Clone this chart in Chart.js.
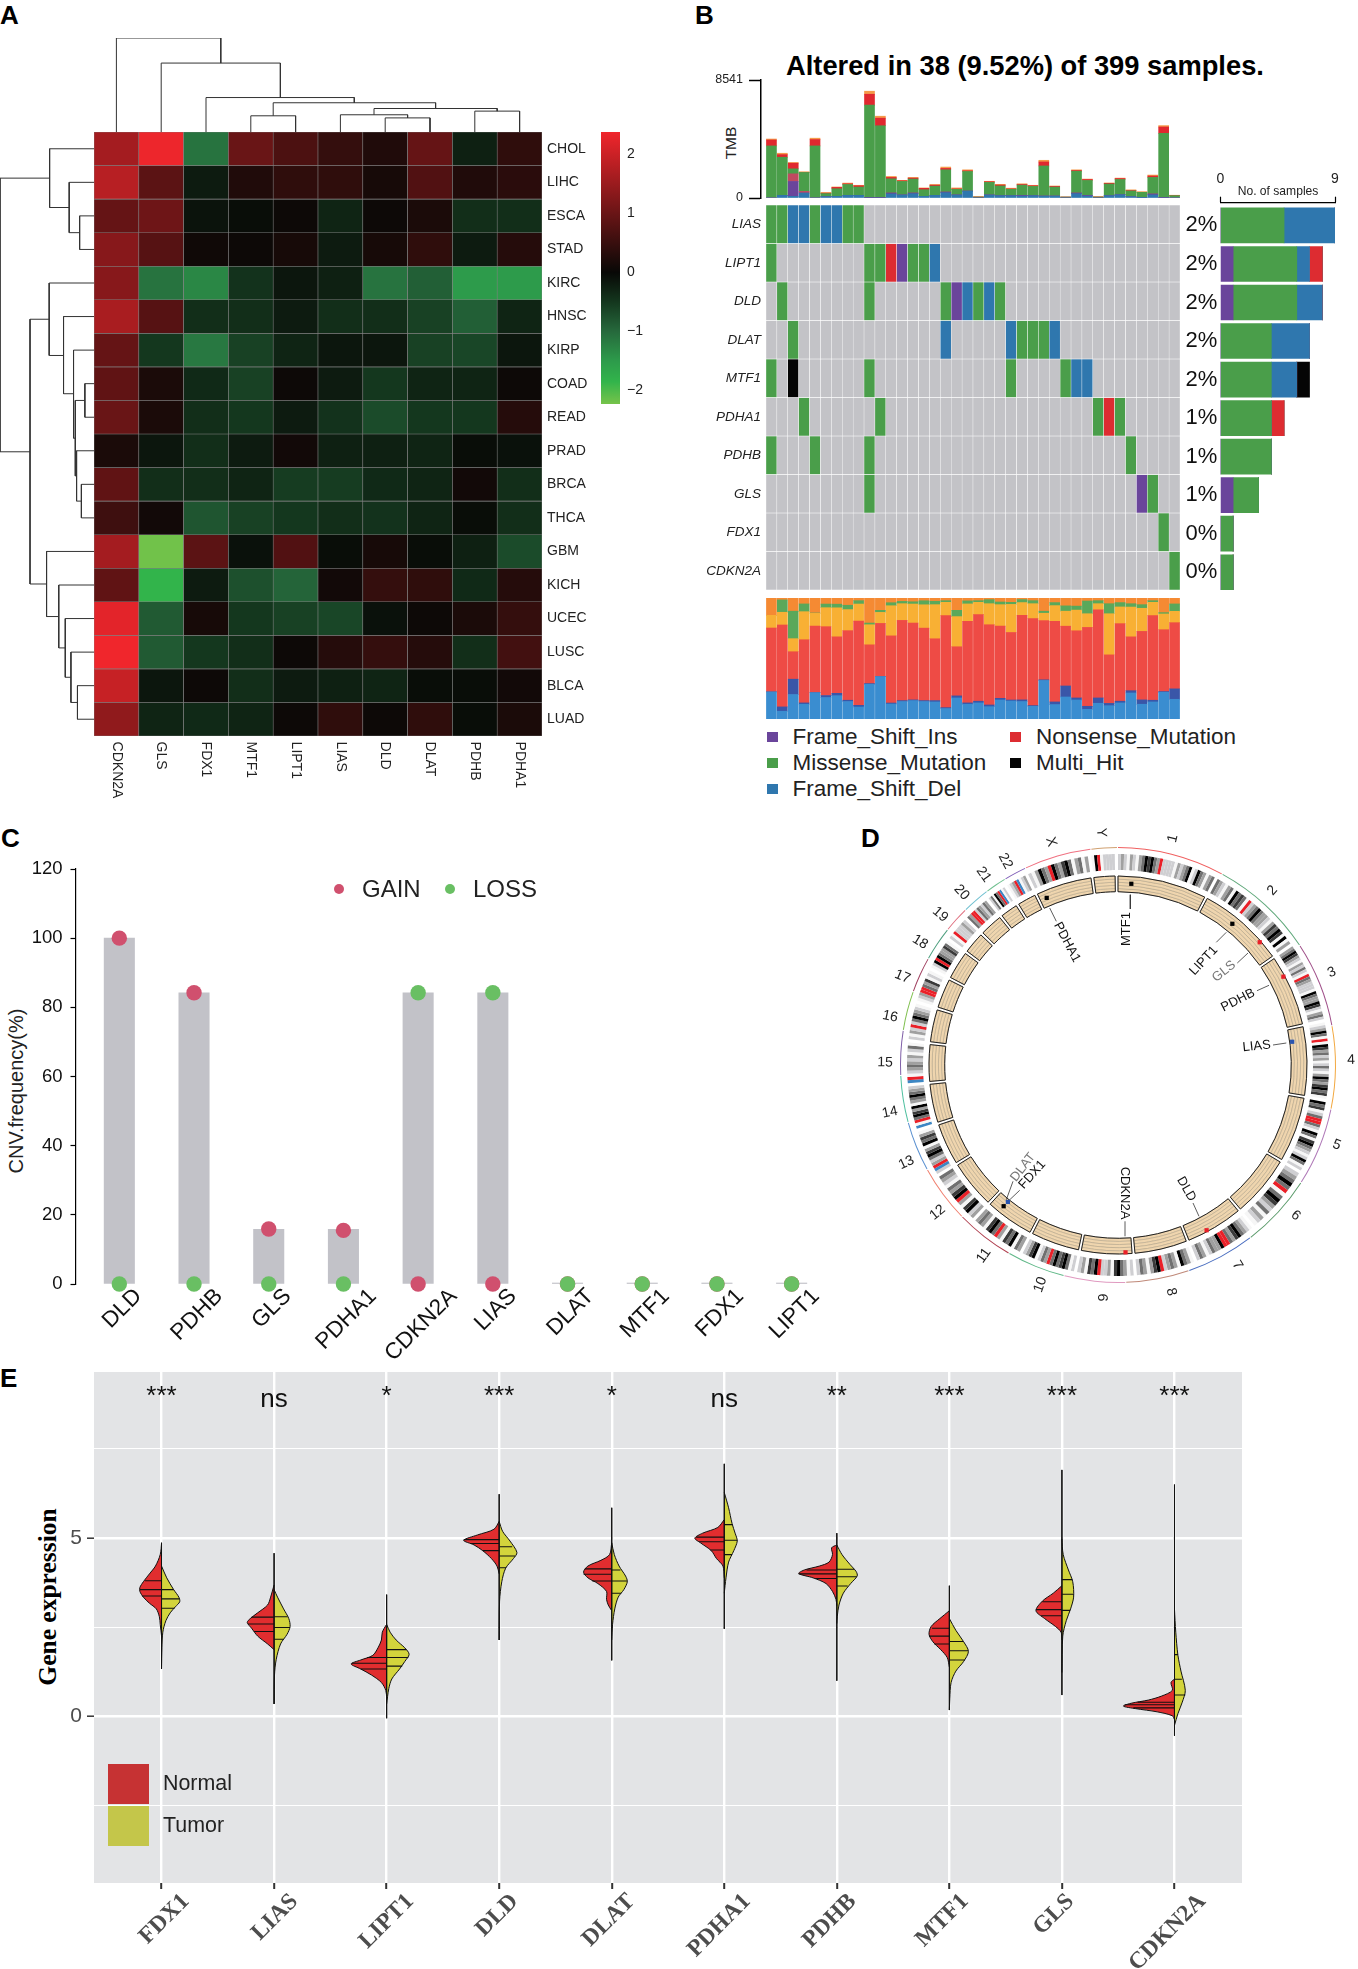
<!DOCTYPE html>
<html><head><meta charset="utf-8">
<style>html,body{margin:0;padding:0;background:#fff;width:1358px;height:1969px;overflow:hidden;position:relative}
.t{position:absolute;white-space:nowrap;font-family:"Liberation Sans",Arial,sans-serif;line-height:1;color:#111}
.s{position:absolute}</style>
<script src="https://cdn.jsdelivr.net/npm/chart.js@4/dist/chart.umd.js"></script>
</head><body>
<script>
/* ---------- A: heatmap ---------- */
const heatGenes=['CDKN2A','GLS','FDX1','MTF1','LIPT1','LIAS','DLD','DLAT','PDHB','PDHA1'];
const heatRows=['CHOL','LIHC','ESCA','STAD','KIRC','HNSC','KIRP','COAD','READ','PRAD','BRCA','THCA','GBM','KICH','UCEC','LUSC','BLCA','LUAD'];
const heatValues=[
[1.6,2.35,-1.1,1.0,0.7,0.45,0.25,0.95,-0.25,0.4],
[1.8,0.85,-0.2,0.25,0.4,0.4,0.15,0.75,0.25,0.35],
[0.95,1.05,-0.12,-0.05,0.05,-0.3,0.05,0.2,-0.4,-0.4],
[1.3,0.8,0.08,0.05,0.15,-0.2,0.15,0.4,-0.2,0.3],
[1.3,-1.1,-1.3,-0.45,-0.15,-0.25,-1.1,-0.9,-1.5,-1.5],
[1.65,0.8,-0.4,-0.4,-0.2,-0.4,-0.4,-0.6,-0.9,-0.3],
[0.95,-0.5,-1.15,-0.6,-0.3,-0.15,-0.15,-0.6,-0.65,-0.15],
[0.9,0.2,-0.35,-0.6,0.05,-0.2,-0.5,-0.3,-0.3,0.05],
[1.0,0.2,-0.4,-0.5,-0.2,-0.45,-0.7,-0.5,-0.5,0.3],
[0.2,-0.15,-0.4,-0.2,0.1,-0.25,-0.25,-0.3,-0.05,-0.1],
[0.9,-0.4,-0.4,-0.3,-0.55,-0.55,-0.35,-0.3,0.1,-0.4],
[0.55,0.1,-0.8,-0.6,-0.5,-0.4,-0.45,-0.3,-0.05,-0.4],
[1.6,-2.2,0.85,-0.1,0.75,-0.05,0.15,-0.05,-0.25,-0.7],
[0.9,-1.85,-0.2,-0.75,-0.95,0.1,0.45,0.4,-0.35,0.3],
[2.25,-0.85,0.15,-0.5,-0.6,-0.65,-0.1,0.05,0.2,0.45],
[2.38,-0.85,-0.5,-0.4,0.05,0.3,0.45,0.3,-0.4,0.6],
[1.95,-0.15,0.05,-0.4,-0.2,-0.25,-0.3,-0.05,-0.05,0.1],
[1.4,-0.3,-0.35,-0.3,0.05,0.4,0.05,0.4,-0.05,0.2]];
const heatStops=[[-2.23,[118,195,74]],[-1.85,[50,180,75]],[-1.5,[45,155,75]],[-1,[38,105,60]],[-0.5,[20,55,30]],[0,[8,8,6]],[2.38,[240,38,44]]];
const heatTicks=[-2,-1,0,1,2];
/* dendrograms: [posA,heightA,posB,heightB,mergeHeight] */
const topDendro=[[3.5,0,4.5,0,31],[6.5,0,7.5,0,27],[5.5,0,7,27,33],[8.5,0,9.5,0,40],[6.25,33,9,40,45],[4,31,7.625,45,56],[2.5,0,5.81,56,66],[1.5,0,4.16,66,132],[0.5,0,2.83,132,180]];
const leftDendro=[[16.5,0,17.5,0,38],[15.5,0,17,38,53],[14.5,0,16.25,53,66],[13.5,0,15.375,66,81],[12.5,0,14.44,81,109],[10.5,0,11.5,0,29],[9.5,0,11,29,40],[7.5,0,8.5,0,21],[8,21,10.25,40,43],[6.5,0,9.125,43,47],[5.5,0,7.8,47,70],[4.5,0,6.66,70,103],[5.58,103,13.47,109,147],[2.5,0,3.5,0,33],[1.5,0,3,33,57],[0.5,0,2.25,57,102],[1.375,102,9.53,147,216]];
/* ---------- B: oncoplot ---------- */
const oncoGenes=['LIAS','LIPT1','DLD','DLAT','MTF1','PDHA1','PDHB','GLS','FDX1','CDKN2A'];
const oncoPct=['2%','2%','2%','2%','2%','1%','1%','1%','0%','0%'];
const oncoHits=[
{0:'G',1:'G',2:'B',3:'B',4:'G',5:'B',6:'B',7:'G',8:'G'},
{0:'G',9:'G',10:'G',11:'R',12:'P',13:'G',14:'G',15:'B'},
{1:'G',9:'G',16:'G',17:'P',18:'B',19:'G',20:'B',21:'G'},
{2:'G',16:'B',22:'B',23:'G',24:'G',25:'G',26:'B'},
{0:'G',2:'K',9:'G',22:'G',27:'G',28:'B',29:'B'},
{3:'G',10:'G',30:'G',31:'R',32:'G'},
{0:'G',4:'G',9:'G',33:'G'},
{9:'G',34:'P',35:'G'},
{36:'G'},
{37:'G'}];
const tmbBlue=[0,190,120,360,0,100,120,190,190,0,0,290,220,310,120,190,380,220,500,0,220,170,170,140,170,140,140,0,310,140,0,170,240,100,50,220,0,0];
const tmbPurple=[0,0,1080,0,0,0,0,0,0,50,50,70,0,50,0,0,50,0,0,0,0,0,0,50,0,0,0,0,50,50,0,0,0,0,0,70,50,0];
const tmbCrimson=[0,0,550,120,0,0,0,0,0,0,0,0,0,0,0,0,0,0,0,0,0,0,0,0,0,0,0,0,0,0,0,0,0,0,0,0,0,0];
const tmbGreen=[3770,2760,360,1370,3770,220,550,790,600,6670,5180,1030,980,1010,480,670,1610,410,1420,70,910,700,460,740,670,2180,650,70,1580,1080,70,840,1100,410,360,1200,4630,170];
const tmbRed=[430,190,410,0,460,30,100,50,100,790,550,100,50,70,100,70,100,30,50,0,50,70,30,50,50,290,50,0,50,70,0,50,70,30,0,100,460,0];
const tmbOrange=[70,100,50,50,100,50,30,50,30,220,140,70,30,50,30,50,100,70,70,30,30,50,50,50,30,120,30,0,50,30,30,30,30,50,50,70,100,30];
const tvBlue=[22.4,6.4,20.2,12.2,21.8,17.7,19.3,14.4,9.9,28.7,35.1,12.4,14.4,15.2,14.4,14.1,8.6,17.4,12.2,13.3,10.2,15.7,14.9,14.4,10.5,31.8,11.9,18.2,15.7,8,13,11,13.3,21.5,12.2,14.1,22.1,16.3];
const tvNavy=[0,3.6,12.7,1.1,0,1.7,1.9,1.1,1.4,0.6,0,0.8,0.8,0.6,0.8,1.1,0.8,1.7,1.1,1.4,1.4,1.4,0.8,1.4,0.6,0.6,2.2,9.1,1.7,2.5,4.4,1.9,1.4,1.9,3.6,1.4,0.6,8.6];
const tvRed=[52.8,67.7,22.7,52.2,55,56.9,46.7,57.5,69.6,32,43.9,55.5,66.3,63.5,59.9,51.1,76,40.6,67.4,71.5,66.3,59.7,55.8,69.9,71.8,48.9,66.6,49.4,55.5,65.2,72.9,40.1,64.1,44.5,56.6,69.9,51.1,54.7];
const tvYellow=[10.5,10.5,10.8,23.2,10.5,15.7,24,17.4,14.1,16.6,9.1,24.9,13.8,15.7,19.3,28.2,11,24.9,14.4,10.2,17.4,17.7,23.2,10.5,12.4,6.1,13,12.4,17.1,11.3,5,34,13.8,24.6,19.1,11,13,9.4];
const tvGreen=[0,10.2,22.7,6.4,0.3,3,3,3.6,2.8,1.4,1.7,2.5,1.9,1.9,3.3,2.8,1.4,5.2,2.5,1.4,3.3,2.2,1.7,2.5,2.5,1.7,2.5,4.4,3.3,10.5,2.5,8.3,3.6,2.8,3,1.4,1.1,6.1];
const tvOrange=[14.4,1.7,11,5,12.4,5,5,6.1,2.2,20.7,10.2,3.9,2.8,3,2.2,2.8,2.2,10.2,2.5,2.2,1.4,3.3,3.6,1.4,2.2,11,3.9,6.4,6.6,2.5,2.2,4.7,3.9,4.7,5.5,2.2,12.2,5];
const sideFrameIns=[0,1,1,0,0,0,0,1,0,0];
const sideMissense=[5,5,5,4,4,4,4,2,1,1];
const sideFrameDel=[4,1,2,3,2,0,0,0,0,0];
const sideNonsense=[0,1,0,0,0,1,0,0,0,0];
const sideMultiHit=[0,0,0,0,1,0,0,0,0,0];
const mutColor={P:'#6a459b',G:'#4a9e4a',B:'#2f77ae',R:'#dd2c31',K:'#050505'};
/* ---------- C ---------- */
const cnvGenes=['DLD','PDHB','GLS','PDHA1','CDKN2A','LIAS','DLAT','MTF1','FDX1','LIPT1'];
const cnvBar=[100,84.2,15.8,15.8,84.2,84.2,0,0,0,0];
const cnvGain=[100,84.2,15.9,15.5,0,0,0,0,0,0];
const cnvLoss=[0,0,0,0,84.2,84.2,0,0,0,0];
const cnvTicks=[0,20,40,60,80,100,120];
/* ---------- D: circos ---------- */
const chromNames=['1','2','3','4','5','6','7','8','9','10','11','12','13','14','15','16','17','18','19','20','21','22','X','Y'];
const chromSizes=[249,243,198,191,181,171,159,146,141,135,135,133,115,107,102,90,81,78,59,63,48,51,155,59];
const chromColors=['#f06060','#5fa87a','#a0508a','#f2a840','#b07ab8','#5a9a6a','#4a6ec0','#c08a7a','#e09ac0','#60b888','#b04050','#f08070','#5a90d0','#50c0a0','#8060a8','#80c050','#a04060','#50a080','#e07080','#70c0d0','#70c090','#8060b8','#f07080','#d0a070'];
const chromGap=8;
const chromBands=['lmlwmlwmgkdkgmrllllwmlmgkwlkgmwmg','gmlwmgwkgdgwrlmgkgmmlwmdgkdwkwm','mgkdmlwmlglwrgmlllwkgmmkdlwmgl','wlmkgwrwkdmglmwlglwmkgmdkgdw','kgdwlgrrglwkgwdkgmlwlkgwl','lmgkgrwgkdmlgwmlw','wlmgkdmgrrkmmglwmgl','wmgkwmgmlrkdmwmgl','lwmgkdwmllrkgdwml','lwgkdgkgrmglwkdml','mgwkgdwmrgkdwmgm','mlkdwmrkdmgwlmg','lbrmlgkdmwkgdmw','bwrgkdmkwmgkgml','brwlmgmlmwlgw','lwmlrlgkgmlw','wlmrrgmdwlw','wlkrkgmmdgw','lwrlllml','gmrrlgmlgm','lgwkgrbwl','wlmrbwlm','lwmkgmrkgmdkgwmgwm','wkrwllll'];
const bandShades={w:'#f6f6f6',l:'#cfcfd2',m:'#a0a0a0',g:'#707070',d:'#3a3a3a',k:'#000000',r:'#ea2028',b:'#3d87c4'};
const markerGenes=['MTF1','LIPT1','GLS','PDHB','LIAS','DLD','CDKN2A','DLAT','FDX1','PDHA1'];
const markerAngle=[4.2,39,49.1,61.9,82.4,151.8,177.7,218.8,219,336.9];
const markerRadius=[181.7,181.7,187.5,187.5,175.7,187.5,187.5,175.7,181.7,181.7];
const markerColor=['#000','#000','#ea2028','#ea2028','#2a55b0','#ea2028','#ea2028','#2a55b0','#000','#000'];
const leaderLines=[[12.3,170.3,12.3,156],[108.3,132.7,98.3,122.7],[130,112,119.3,102],[151,79.7,139,74.3],[168.3,22,155,20],[81,-151.3,75,-138],[7,-171.3,7,-156.3],[-111.7,-134.7,-105,-116.3],[-111.7,-138,-98.3,-125.3],[-68.3,157,-61.7,143.7]];
const labelX=[8.3,85.7,106,120,138.7,68.3,7,-95,-85.7,-51];
const labelY=[136,104.3,93.7,64.7,18.7,-124,-128,-102.3,-109.7,122.7];
const labelRot=[-90,-47,-38,-27,-6,60,90,-52,-48,62];
const labelInk=['#111','#111','#777','#111','#111','#111','#111','#777','#111','#111'];
/* ---------- E: violins ---------- */
const violinGenes=['FDX1','LIAS','LIPT1','DLD','DLAT','PDHA1','PDHB','MTF1','GLS','CDKN2A'];
const sigLabels=['***','ns','*','***','*','ns','**','***','***','***'];
const whiskerTop=[4.86,4.57,3.41,6.22,5.84,7.07,5.13,3.66,6.90,6.49];
const whiskerBottom=[1.33,0.35,-0.05,2.14,1.57,2.45,1.0,0.18,0.60,-0.54];
const normalProfiles=[
[[4.86,0],[4.53,3],[4.21,14],[3.99,28],[3.77,42],[3.61,50],[3.5,50],[3.34,42],[3.17,28],[3.01,12],[2.79,5],[2.58,3],[2.25,0]],
[[3.68,0],[3.34,8],[3.12,15],[2.9,38],[2.74,55],[2.63,62],[2.47,52],[2.25,38],[2.03,15],[1.87,0]],
[[2.58,0],[2.36,10],[2.14,12],[1.92,20],[1.71,32],[1.58,60],[1.47,82],[1.33,60],[1.16,35],[0.95,12],[0.73,2],[0.51,0]],
[[5.46,0],[5.24,12],[5.08,50],[4.93,82],[4.8,58],[4.64,38],[4.42,18],[4.21,5],[3.99,0]],
[[4.86,0],[4.53,5],[4.37,25],[4.21,55],[4.04,65],[3.88,55],[3.72,32],[3.5,12],[3.28,12],[3.12,8],[2.96,0]],
[[5.51,0],[5.29,15],[5.13,50],[4.99,68],[4.86,55],[4.64,30],[4.42,18],[4.21,3],[3.88,0]],
[[4.8,0],[4.72,12],[4.53,10],[4.32,18],[4.21,40],[4.1,75],[4.0,88],[3.88,55],[3.72,25],[3.5,10],[3.28,2],[3.1,0]],
[[2.96,0],[2.74,22],[2.52,42],[2.3,47],[2.09,38],[1.87,20],[1.65,5],[1.38,0]],
[[3.66,0],[3.45,20],[3.23,45],[2.96,60],[2.74,40],[2.52,15],[2.36,2],[2.14,0]],
[[1.05,0],[0.95,8],[0.73,5],[0.57,30],[0.46,60],[0.37,100],[0.29,118],[0.22,90],[0.13,40],[0.02,5],[-0.09,0]]];
const tumorProfiles=[
[[4.21,0],[3.88,12],[3.55,28],[3.34,40],[3.21,42],[3.07,32],[2.9,20],[2.68,10],[2.36,3],[1.92,1],[1.33,0]],
[[3.55,0],[3.34,8],[3.01,22],[2.74,34],[2.52,37],[2.3,30],[2.03,15],[1.6,5],[1.16,1],[0.35,0]],
[[2.58,0],[2.36,8],[2.14,22],[1.92,42],[1.74,52],[1.54,42],[1.33,30],[1.05,12],[0.78,5],[0.35,0]],
[[5.46,0],[5.18,8],[4.91,25],[4.59,41],[4.42,33],[4.15,15],[3.77,6],[3.23,1],[2.14,0]],
[[4.86,0],[4.53,6],[4.21,17],[3.93,32],[3.77,36],[3.55,28],[3.34,15],[3.01,7],[2.58,2],[2.14,0]],
[[6.27,0],[5.84,10],[5.4,18],[5.13,25],[4.91,30],[4.64,22],[4.32,10],[3.88,4],[3.45,0]],
[[4.8,0],[4.53,12],[4.26,30],[4.05,45],[3.93,47],[3.72,32],[3.45,15],[3.12,5],[2.79,1],[2.6,0]],
[[2.74,0],[2.41,15],[2.09,33],[1.82,44],[1.54,33],[1.27,15],[0.95,4],[0.51,1],[0.18,0]],
[[4.97,0],[4.53,3],[4.1,15],[3.77,25],[3.34,27],[3.01,20],[2.68,10],[2.25,2],[1.23,0]],
[[3.01,0],[2.36,3],[1.71,8],[1.27,15],[0.73,25],[0.4,18],[0.08,8],[-0.25,0]]];
const normalQuant=[[[3.8,38],[3.55,50],[3.37,45]],[[2.78,52],[2.59,60],[2.38,46]],[[1.65,45],[1.49,80],[1.33,60]],[[4.95,82],[4.84,65],[4.64,38]],[[4.13,62],[3.98,65],[3.79,45]],[[5.02,65],[4.89,58],[4.66,32]],[[4.1,70],[3.99,88],[3.86,50]],[[2.47,40],[2.25,47],[2.03,35]],[[3.21,45],[2.99,60],[2.82,48]],[[0.4,85],[0.33,115],[0.24,95]]];
const tumorQuant=[[[3.55,28],[3.29,42],[3.03,30]],[[2.79,31],[2.49,37],[2.16,22]],[[1.87,46],[1.65,50],[1.41,36]],[[4.75,30],[4.49,37],[4.16,16]],[[4.1,20],[3.79,36],[3.45,22]],[[5.37,19],[4.93,30],[4.53,18]],[[4.12,40],[3.91,46],[3.65,25]],[[2.1,32],[1.84,43],[1.58,36]],[[3.83,24],[3.42,27],[2.97,19]],[[1.73,8],[1.04,17],[0.6,25]]];
const exprTicks=[-2.5,0,2.5,5,7.5];
const sigLevel=8.67;

/* ---------- helpers ---------- */
const FONT='"Liberation Sans",Arial,sans-serif', SERIF='"Liberation Serif",serif';
Chart.defaults.font.family=FONT; Chart.defaults.color='#111';
function mk(L,T,W,H,cfg){
  const c=document.createElement('canvas');c.width=W;c.height=H;
  c.style.cssText=`position:absolute;left:${L}px;top:${T}px;width:${W}px;height:${H}px`;
  document.body.appendChild(c);
  const o=cfg.options||{};
  o.responsive=false;o.animation=false;o.devicePixelRatio=1;
  o.layout=Object.assign({autoPadding:false,padding:0},o.layout);
  o.plugins=Object.assign({legend:{display:false},tooltip:{enabled:false}},o.plugins);
  cfg.options=o;return new Chart(c,cfg);
}
function txt(x,y,s,css,rot){
  const d=document.createElement('div');d.className='t';d.textContent=s;
  d.style.cssText=`left:${x}px;top:${y}px;transform:translateY(-50%);`+(css||'');
  if(rot!==undefined)d.style.transform=`translate(-50%,-50%) rotate(${rot}deg)`;
  document.body.appendChild(d);
}
function sq(x,y,w,h,col,round){const d=document.createElement('div');d.className='s';d.style.cssText=`left:${x}px;top:${y}px;width:${w}px;height:${h}px;background:${col};`+(round?'border-radius:50%;':'');document.body.appendChild(d);}
const noPad=s=>{s.paddingTop=s.paddingBottom=s.paddingLeft=s.paddingRight=0;};
const fitW=n=>s=>{s.width=n;noPad(s)};
const fitH=n=>s=>{s.height=n;noPad(s)};
const off={display:false};
function rotLabels(n,pad,mode,dx){return s=>{
  s.height=n;noPad(s);
  if(s._rl)return;s._rl=true;
  const orig=s._computeLabelItems;
  s._computeLabelItems=function(ca){
    const items=orig.call(this,ca),c=this.ctx;
    items.forEach((it,i)=>{
      c.font=it.font.string;
      const w=c.measureText(it.label).width,th=it.options.rotation,px=this.getPixelForTick(i);
      const shift=Array.isArray(dx)?dx[i]:(dx||0);
      it.textOffset=0;it.options.textBaseline='middle';
      if(mode==='start'){it.options.textAlign='left';it.options.translation=[px,this.top+pad];}
      else{it.options.textAlign='center';it.options.translation=[px+shift,this.top+pad+w/2*Math.abs(Math.sin(th))+it.font.size*0.36*Math.abs(Math.cos(th))];}
    });
    return items;
  };
}}
function dendroPts(list,swap){const p=[];list.forEach(([a,ha,b,hb,h])=>{
  [[a,ha],[a,h],[b,h],[b,hb]].forEach(([u,v])=>p.push(swap?{x:v,y:u}:{x:u,y:v}));
  p.push({x:NaN,y:NaN});});return p;}
function heatColor(v){
  for(let i=1;i<heatStops.length;i++){const [a,ca]=heatStops[i-1],[b,cb]=heatStops[i];
    if(v<=b){const t=Math.max(0,(v-a)/(b-a));return `rgb(${ca.map((q,k)=>Math.round(q+(cb[k]-q)*t)).join(',')})`;}}
  return 'rgb(240,38,44)';
}
const lineDs=(data,color,w)=>({data,showLine:true,pointRadius:0,borderColor:color,borderWidth:w,clip:false,spanGaps:false});

/* ---------- panel letters ---------- */
const LET='font-weight:bold;font-size:26px;color:#000;';
txt(0,15,'A',LET);txt(695,14.5,'B',LET);txt(1,837.5,'C',LET);txt(861,837.5,'D',LET);txt(0,1378,'E',LET);

/* ---------- A ---------- */
mk(94,38,448,94,{type:'scatter',data:{datasets:[lineDs(dendroPts(topDendro),'#333',1)]},options:{scales:{x:{type:'linear',min:0,max:10,display:false},y:{min:0,max:180,display:false}}}});
mk(0,132,94,604,{type:'scatter',data:{datasets:[lineDs(dendroPts(leftDendro,true),'#333',1)]},options:{scales:{x:{type:'linear',min:0,max:216,reverse:true,display:false},y:{min:0,max:18,reverse:true,display:false}}}});
mk(94,132,518,674,{type:'bar',data:{labels:heatGenes,datasets:heatRows.map((r,i)=>({label:r,yAxisID:'yv',grouped:false,barPercentage:1,categoryPercentage:1,borderSkipped:false,borderWidth:0.6,borderColor:'#808080',
  data:heatGenes.map(()=>[i,i+1]),backgroundColor:heatValues[i].map(heatColor)}))},
  options:{scales:{
    x:{grid:off,border:off,afterFit:rotLabels(70,5.6,'start'),ticks:{autoSkip:false,minRotation:-90,maxRotation:-90,font:{size:14},color:'#222'}},
    yv:{type:'linear',min:0,max:18,reverse:true,display:false},
    yr:{type:'category',labels:heatRows,position:'right',offset:true,grid:{display:false,drawTicks:false},border:off,afterFit:fitW(70),ticks:{autoSkip:false,padding:5,font:{size:14},color:'#222'}}
  }}});
mk(601,132,70,272,{type:'bar',data:{labels:['scale'],datasets:[{data:[[-2.23,2.38]],barPercentage:1,categoryPercentage:1,borderSkipped:false,
  backgroundColor:ctx=>{const a=ctx.chart.chartArea;if(!a)return '#000';const g=ctx.chart.ctx.createLinearGradient(0,a.bottom,0,a.top);
    heatStops.forEach(([v,c])=>g.addColorStop((v+2.23)/4.61,`rgb(${c.join(',')})`));g.addColorStop(1,'rgb(240,38,44)');return g;}}]},
  options:{scales:{x:{display:false},y:{position:'right',min:-2.23,max:2.38,border:off,grid:{display:false,drawTicks:false},afterFit:fitW(51),
    afterBuildTicks:s=>{s.ticks=heatTicks.map(value=>({value}))},ticks:{padding:7,font:{size:14},color:'#222',callback:v=>String(v).replace('-','\u2212')}}}}});

/* ---------- B ---------- */
txt(786,65.5,'Altered in 38 (9.52%) of 399 samples.','font-weight:bold;font-size:27.3px;color:#000;');
txt(731,143,'TMB','font-size:15.5px;color:#222;',-90);
const stackDs=(data,color)=>({data:data.map((y,x)=>({x,y})),backgroundColor:color,barThickness:10});
mk(705,70,475,140,{type:'bar',data:{datasets:[stackDs(tmbBlue,'#2f77ae'),stackDs(tmbPurple,'#6a459b'),stackDs(tmbCrimson,'#c04a60'),stackDs(tmbGreen,'#4a9e4a'),stackDs(tmbRed,'#e0282f'),stackDs(tmbOrange,'#f59a4a')]},
  options:{layout:{padding:{top:10,bottom:12}},scales:{
    x:{type:'linear',offset:false,min:-0.959,max:37.5,stacked:true,display:false},
    y:{stacked:true,min:0,max:8541,afterFit:fitW(56),afterBuildTicks:s=>{s.ticks=[0,8541].map(value=>({value}))},
       border:{color:'#000',width:1.5},grid:{drawOnChartArea:false,tickLength:12,tickColor:'#000',tickWidth:1.5},ticks:{padding:6,font:{size:12.5},color:'#222',callback:v=>String(v)}}}}});
const nCols=tmbGreen.length;
mk(696,205,484,385,{type:'bar',data:{datasets:oncoGenes.map((g,r)=>({yAxisID:'yv',grouped:false,barThickness:10.9,borderSkipped:false,borderWidth:0.5,borderColor:'#fff',
   data:Array.from({length:nCols},(_,x)=>({x,y:[r,r+1]})),
   backgroundColor:Array.from({length:nCols},(_,x)=>oncoHits[r][x]?mutColor[oncoHits[r][x]]:'#c3c3c7')}))},
  options:{scales:{
    x:{type:'linear',offset:false,min:-0.5,max:37.5,display:false},
    yv:{type:'linear',min:0,max:10,reverse:true,display:false},
    yl:{type:'category',labels:oncoGenes,position:'left',offset:true,border:off,grid:{display:false,drawTicks:false},afterFit:fitW(70),ticks:{autoSkip:false,padding:5,font:{size:13.5,style:'italic'},color:'#222'}}}}});
const sideDs=(data,color)=>({data:data.map((x,y)=>({x,y})),backgroundColor:color,barThickness:35});
mk(1185,172,155,422,{type:'bar',data:{datasets:[sideDs(sideFrameIns,mutColor.P),sideDs(sideMissense,mutColor.G),sideDs(sideFrameDel,mutColor.B),sideDs(sideNonsense,mutColor.R),sideDs(sideMultiHit,mutColor.K)]},
  options:{indexAxis:'y',layout:{padding:{right:5,bottom:2.5}},scales:{
    x:{type:'linear',position:'top',stacked:true,min:0,max:9,afterFit:fitH(30.7),afterBuildTicks:s=>{s.ticks=[0,9].map(value=>({value}))},
      border:{color:'#000',width:1.2},grid:{drawOnChartArea:false,tickLength:6,tickColor:'#000',tickWidth:1.2},ticks:{padding:9,maxRotation:0,font:{size:14},color:'#222'}},
    y:{type:'linear',offset:false,stacked:true,min:-0.59,max:9.5,reverse:true,afterFit:fitW(35.4),border:off,grid:{display:false,drawTicks:false},
      afterBuildTicks:s=>{s.ticks=oncoPct.map((_,value)=>({value}))},ticks:{padding:3,font:{size:22},color:'#111',callback:v=>oncoPct[v]}}}}});
txt(1237.7,191,'No. of samples','font-size:12.1px;color:#222;');
mk(766,598,414,121,{type:'bar',data:{datasets:[stackDs(tvBlue,'#3a8dd0'),stackDs(tvNavy,'#3a56a8'),stackDs(tvRed,'#ee4b45'),stackDs(tvYellow,'#f8b034'),stackDs(tvGreen,'#5aa85a'),stackDs(tvOrange,'#f58a33')]},
  options:{scales:{x:{type:'linear',offset:false,min:-0.5,max:37.5,stacked:true,display:false},y:{stacked:true,min:0,max:100,display:false}}}});
[['Frame_Shift_Ins',767,792.4,736.7,mutColor.P],['Missense_Mutation',767,792.4,763.3,mutColor.G],['Frame_Shift_Del',767,792.4,789.3,mutColor.B],['Nonsense_Mutation',1010,1036,736.7,mutColor.R],['Multi_Hit',1010,1036,763.3,mutColor.K]]
 .forEach(([s,a,b,y,c])=>{sq(a,y-5,11,10,c);txt(b,y,s,'font-size:22.5px;color:#222;');});

/* ---------- C ---------- */
txt(16,1091,'CNV.frequency(%)','font-size:20px;color:#222;',-90);
const ptDs=(data,color)=>({type:'scatter',data:data.map((y,x)=>({x,y})),backgroundColor:color,borderWidth:0,pointRadius:7.7,clip:false});
mk(0,860,840,500,{data:{datasets:[ptDs(cnvLoss,'#69bf63'),ptDs(cnvGain,'#d0506e'),{type:'bar',data:cnvBar.map((y,x)=>({x,y})),backgroundColor:'#c2c2c8',barThickness:30.4,minBarLength:1}]},
  options:{layout:{padding:{top:9,right:11}},scales:{
    x:{type:'linear',offset:false,min:-0.58,max:9.5,border:off,grid:{display:false,drawTicks:false},afterFit:rotLabels(76,3,'center',3),
       afterBuildTicks:s=>{s.ticks=cnvGenes.map((_,value)=>({value}))},ticks:{autoSkip:false,minRotation:45,maxRotation:45,font:{size:22.5},color:'#111',callback:v=>cnvGenes[v]}},
    y:{min:0,max:120,afterFit:fitW(76),afterBuildTicks:s=>{s.ticks=cnvTicks.map(value=>({value}))},border:{color:'#000',width:1.2},grid:{drawOnChartArea:false,tickLength:5.5,tickColor:'#000',tickWidth:1.2},ticks:{padding:8,font:{size:18.5},color:'#111'}}}}});
sq(334,884,10,10,'#d0506e',true);txt(362,889,'GAIN','font-size:24px;color:#222;');
sq(445,884,10,10,'#69bf63',true);txt(473,889,'LOSS','font-size:24px;color:#222;');

/* ---------- D ---------- */
const DL=878,DT=825,DS=480,DR=240;
const flat=(fn,gapFn)=>{const o=[];chromSizes.forEach((l,i)=>{o.push(...fn(l,i));o.push(gapFn());});return o;};
const ringChart=(R,r,datasets)=>mk(DL,DT,DS,DS,{type:'doughnut',data:{datasets},options:{radius:R,cutout:(r/R*100)+'%'}});
const outerData=flat(l=>[l],()=>chromGap*0.3),outerCol=flat((l,i)=>[chromColors[i]],()=>'rgba(0,0,0,0)');
ringChart(218,217,[{data:outerData,backgroundColor:outerCol,borderWidth:0}]);
const bandData=flat((l,i)=>[...chromBands[i]].map(()=>l/chromBands[i].length),()=>chromGap),
      bandCol=flat((l,i)=>[...chromBands[i]].map(ch=>bandShades[ch]),()=>'rgba(0,0,0,0)');
ringChart(211,195,[{data:bandData,backgroundColor:bandCol,borderWidth:0}]);
const trackData=flat(l=>[l],()=>chromGap),trackFill=flat(()=>['#efd5ae'],()=>'rgba(0,0,0,0)'),
      trackLine=flat(()=>['#b5a68c'],()=>'rgba(0,0,0,0)'),trackEdge=flat(()=>['#222'],()=>'rgba(0,0,0,0)');
ringChart(189,173.3,[0,1,2,3,4].map(()=>({data:trackData,backgroundColor:trackFill,borderColor:trackLine,borderWidth:0.6})));
ringChart(189,173.3,[{data:trackData,backgroundColor:'rgba(0,0,0,0)',borderColor:trackEdge,borderWidth:1}]);
const deg=Math.PI/180;
const leaderPts=[];leaderLines.forEach(([a,b,c,d])=>{leaderPts.push({x:a,y:b},{x:c,y:d},{x:NaN,y:NaN});});
const total=chromSizes.reduce((a,b)=>a+b+chromGap,0);
let acc=0;const chromMid=chromSizes.map(l=>{const m=(acc+l/2)/total*360;acc+=l+chromGap;return m;});
const circosText={id:'circosText',afterDatasetsDraw(ch){
  const c=ch.ctx,X=ch.scales.x,Y=ch.scales.y;c.save();c.textAlign='center';c.textBaseline='middle';
  const put=(s,x,y,rot,col,size)=>{c.save();c.translate(X.getPixelForValue(x),Y.getPixelForValue(y));c.rotate(rot*deg);c.font=`${size}px ${FONT}`;c.fillStyle=col;c.fillText(s,0,0);c.restore();};
  markerGenes.forEach((g,i)=>put(g,labelX[i],labelY[i],labelRot[i],labelInk[i],13));
  chromNames.forEach((n,i)=>{const a=chromMid[i];let r=a+90;if(r>90&&r<270)r-=180;put(n,233*Math.sin(a*deg),233*Math.cos(a*deg),r,'#222',14);});
  c.restore();}};
mk(DL,DT,DS,DS,{type:'scatter',data:{datasets:[
  {data:markerAngle.map((a,i)=>({x:markerRadius[i]*Math.sin(a*deg),y:markerRadius[i]*Math.cos(a*deg)})),pointStyle:'rect',pointRadius:3,backgroundColor:markerColor,borderWidth:0},
  lineDs(leaderPts,'#333',0.8)]},plugins:[circosText],
  options:{scales:{x:{type:'linear',min:-DR,max:DR,display:false},y:{min:-DR,max:DR,display:false}}}});

/* ---------- E ---------- */
txt(48,1597,'Gene expression',`font-family:${SERIF};font-weight:bold;font-size:25.5px;color:#000;`,-90);
const violinFill={id:'violinFill',beforeDatasetDraw(ch,a){const ds=ch.data.datasets[a.index];if(!ds.polyFill)return;const m=a.meta.dataset,c=ch.ctx;
  m.updateControlPoints(ch.chartArea,'x');c.save();c.beginPath();m.path(c);c.closePath();c.fillStyle=ds.polyFill;c.fill();c.restore();}};
const panelBg={id:'panelBg',beforeDraw(ch){const a=ch.chartArea,c=ch.ctx;c.save();c.fillStyle='#e3e4e6';c.fillRect(a.left,a.top,a.width,a.height);c.restore();}};
const sigText={id:'sigText',afterDatasetsDraw(ch){const c=ch.ctx,X=ch.scales.x,Y=ch.scales.y;c.save();c.textAlign='center';c.textBaseline='alphabetic';c.fillStyle='#111';
  sigLabels.forEach((s,i)=>{const ns=s==='ns';c.font=`26px ${FONT}`;c.fillText(s,X.getPixelForValue(i),Y.getPixelForValue(sigLevel)-(ns?0:2.5));});c.restore();}};
const UNIT=260;
const quantPts=[],whiskPts=[];const violins=[];
violinGenes.forEach((g,i)=>{
  whiskPts.push({x:i,y:whiskerTop[i]},{x:i,y:whiskerBottom[i]},{x:NaN,y:NaN});
  normalQuant[i].forEach(([v,d])=>quantPts.push({x:i,y:v},{x:i-d/UNIT,y:v},{x:NaN,y:NaN}));
  tumorQuant[i].forEach(([v,d])=>quantPts.push({x:i,y:v},{x:i+d/UNIT,y:v},{x:NaN,y:NaN}));
  violins.push(Object.assign(lineDs(normalProfiles[i].map(([v,d])=>({x:i-d/UNIT,y:v})),'#111',1),{polyFill:'#e12d2f',tension:0.3}));
  violins.push(Object.assign(lineDs(tumorProfiles[i].map(([v,d])=>({x:i+d/UNIT,y:v})),'#111',1),{polyFill:'#d3d43c',tension:0.3}));
});
mk(0,1362,1250,607,{type:'scatter',data:{datasets:[lineDs(quantPts,'#111',1.1),lineDs(whiskPts,'#111',0.9),...violins]},plugins:[panelBg,violinFill,sigText],
  options:{layout:{padding:{top:10,right:8}},scales:{
    x:{type:'linear',min:-0.6,max:9.6,border:off,afterFit:rotLabels(86,9,'center',[3,1,0,-2,-3,-5,-7,-7,-8,-7]),afterBuildTicks:s=>{s.ticks=violinGenes.map((_,value)=>({value}))},
       grid:{color:'#fff',lineWidth:2.4,tickColor:'#333',tickWidth:2,tickLength:6},
       ticks:{autoSkip:false,minRotation:45,maxRotation:45,font:{family:SERIF,weight:'bold',size:23.5},color:'#4d4d4d',callback:v=>violinGenes[v]}},
    y:{min:-4.66,max:9.64,border:off,afterFit:fitW(94),afterBuildTicks:s=>{s.ticks=exprTicks.map(value=>({value}))},
       grid:{color:'#fff',lineWidth:c=>c.tick.value%5===0?2.4:1,tickColor:c=>c.tick.value%5===0?'#333':'rgba(0,0,0,0)',tickWidth:1.5,tickLength:7},
       ticks:{padding:5,font:{size:21},color:'#4d4d4d',callback:v=>v%5===0?String(v):''}}}}});
sq(108,1764,41,40,'#c63233');sq(108,1805.5,41,40,'#c4c64a');
txt(163,1784,'Normal','font-size:21.4px;color:#222;');txt(163,1826,'Tumor','font-size:21.4px;color:#222;');
</script>
</body></html>
